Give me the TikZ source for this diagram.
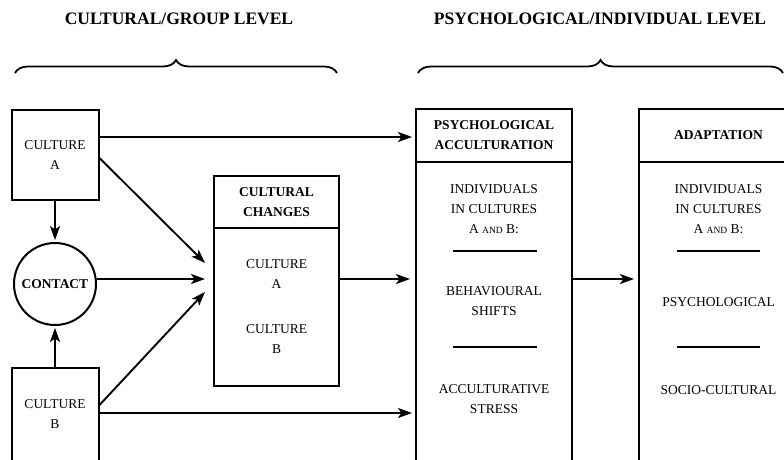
\documentclass[tikz,border=0pt]{standalone}
\usepackage{fontspec}
\setmainfont{Liberation Serif}
\usetikzlibrary{arrows.meta,decorations.pathreplacing}
\begin{document}
\begin{tikzpicture}[x=1pt,y=-1pt,
  box/.style={draw,line width=2pt,inner sep=0pt,align=center,font=\fontsize{13.5}{20}\selectfont},
  head/.style={box,font=\bfseries\fontsize{13.5}{20}\selectfont},
  txt/.style={align=center,inner sep=0pt,font=\fontsize{13.5}{20}\selectfont},
  ttl/.style={font=\bfseries\fontsize{17.5}{20}\selectfont,inner sep=0pt},
  arr/.style={line width=1.9pt,-{Stealth[length=14pt,width=10pt,inset=3.5pt]}},
  rulebar/.style={line width=2pt},
  brc/.style={decorate,decoration={brace,amplitude=13pt},line width=1.8pt}]
\useasboundingbox (0,0) rectangle (784,459);
\clip (0,0) rectangle (784,459);
\newcommand\smallAND{{\fontsize{9.5}{10}\selectfont AND}}
% titles and braces
\node[ttl] (t1) at (179,19) {CULTURAL/GROUP LEVEL};
\node[ttl] (t2) at (600,19) {PSYCHOLOGICAL/INDIVIDUAL LEVEL};
\draw[brc] (15,73) -- (337,73);
\draw[brc] (418,73) -- (783,73);
% group level
\node[box,minimum width=87pt,minimum height=90pt] (cultA) at (55,155) {CULTURE\\A};
\node[box,minimum width=87pt,minimum height=93pt] (cultB) at (55,414.5) {CULTURE\\B};
\node[draw,circle,line width=2pt,minimum size=82pt,inner sep=0pt,font=\bfseries\fontsize{13.5}{20}\selectfont] (contact) at (55,284) {CONTACT};
\node[head,minimum width=125pt,minimum height=52pt] (chH) at (276.5,202) {CULTURAL\\CHANGES};
\node[box,minimum width=125pt,minimum height=158pt] (chB) at (276.5,307) {CULTURE\\A\\[25pt]CULTURE\\B};
% psychological acculturation
\node[head,minimum width=156pt,minimum height=53pt] (psH) at (494,135.5) {PSYCHOLOGICAL\\ACCULTURATION};
\node[box,minimum width=156pt,minimum height=300pt] (psB) at (494,312) {};
\node[txt] (psT1) at (494,209) {INDIVIDUALS\\IN CULTURES\\A \smallAND\ B:};
\draw[rulebar] (453,251) -- (537,251);
\node[txt] (psT2) at (494,301) {BEHAVIOURAL\\SHIFTS};
\draw[rulebar] (453,347) -- (537,347);
\node[txt] (psT3) at (494,399.5) {ACCULTURATIVE\\STRESS};
% adaptation
\node[head,minimum width=159pt,minimum height=53pt] (adH) at (718.5,135.5) {ADAPTATION};
\node[box,minimum width=159pt,minimum height=300pt] (adB) at (718.5,312) {};
\node[txt] (adT1) at (718.5,209) {INDIVIDUALS\\IN CULTURES\\A \smallAND\ B:};
\draw[rulebar] (677,251) -- (760,251);
\node[txt] (adT2) at (718.5,302) {PSYCHOLOGICAL};
\draw[rulebar] (677,347) -- (760,347);
\node[txt] (adT3) at (718.5,390) {SOCIO-CULTURAL};
% connectors
\coordinate (mid) at (0,279);
\coordinate (tA) at (205,263);
\coordinate (tC) at (205,279);
\coordinate (tB) at (205,292);
\coordinate (a1) at ([yshift=18pt]cultA.east);
\coordinate (b1) at ([yshift=1.5pt]cultB.east);
\draw[arr,shorten >=2pt] (cultA.south) -- (contact.north);
\draw[arr,shorten >=2pt] (cultB.north) -- (contact.south);
\draw[arr,shorten >=3pt] (a1) -- (a1 -| psH.west);
\draw[arr,shorten >=3pt] (b1) -- (b1 -| psB.west);
\draw[arr] ([yshift=-3pt]cultA.east) -- (tA);
\draw[arr] (contact.east |- mid) -- (tC);
\draw[arr] ([yshift=9.5pt]cultB.east) -- (tB);
\draw[arr,shorten >=5pt] (chB.east |- mid) -- (psB.west |- mid);
\draw[arr,shorten >=4pt] (psB.east |- mid) -- (adB.west |- mid);
\end{tikzpicture}
\end{document}
